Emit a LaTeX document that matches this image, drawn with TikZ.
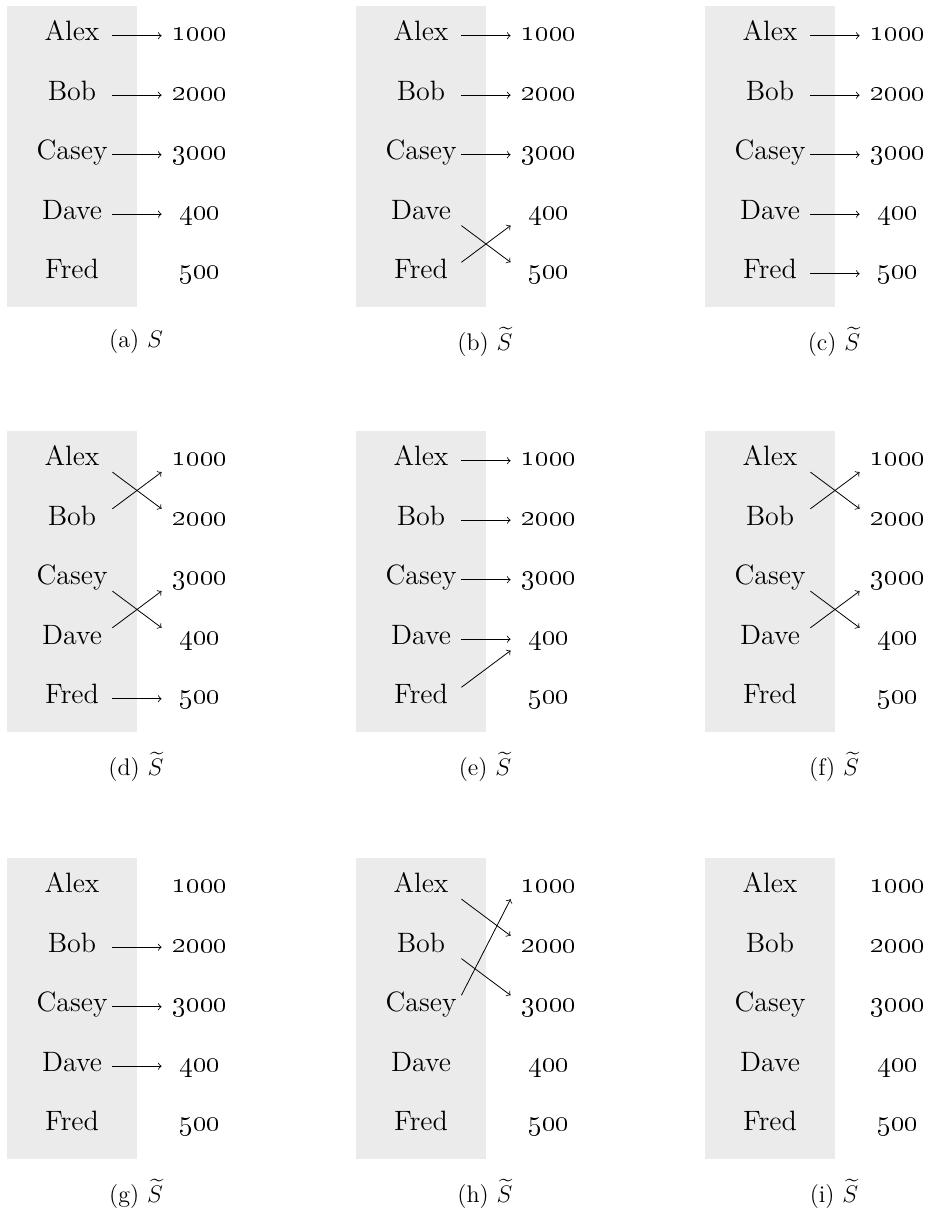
\documentclass[tikz,border=0pt]{standalone}
\usepackage{amsmath,amssymb}
\usepackage{xcolor}
\usepackage{tikz}
\usetikzlibrary{arrows,positioning}

\definecolor{panelgray}{HTML}{EBEBEB}

\begin{document}
\begin{tikzpicture}[
    x=0.5pt, y=-0.5pt,
    person/.style={rectangle, minimum width=40pt, inner sep=0pt, text height=8pt, text depth=3pt, font=\fontsize{14}{16}\selectfont, text centered},
    amount/.style={rectangle, minimum width=38pt, inner sep=0pt, text height=8pt, text depth=3pt, font=\fontsize{14}{16}\selectfont, text centered},
    sublabel/.style={font=\fontsize{12}{14}\selectfont},
    arrow/.style={->,>=to,thin}
]
\useasboundingbox (0,0) rectangle (931,1221);

% the nine panels
\foreach \p/\px/\py/\lbl in {a/0/0/{S}, b/349/0/{\widetilde{S}}, c/698/0/{\widetilde{S}},
                             d/0/425/{\widetilde{S}}, e/349/425/{\widetilde{S}}, f/698/425/{\widetilde{S}},
                             g/0/852/{\widetilde{S}}, h/349/852/{\widetilde{S}}, i/698/852/{\widetilde{S}}} {
  \fill[panelgray] ({\px+7},{\py+6}) rectangle ({\px+137},{\py+307});
  \node[person] (\p-alex)  at ({\px+72},{\py+35.7})  {Alex};
  \node[person] (\p-bob)   at ({\px+72},{\py+95.2})  {Bob};
  \node[person] (\p-casey) at ({\px+72},{\py+154.7}) {Casey};
  \node[person] (\p-dave)  at ({\px+72},{\py+214.2}) {Dave};
  \node[person] (\p-fred)  at ({\px+72},{\py+273.7}) {Fred};
  \node[amount] (\p-1000) at ({\px+200},{\py+35.7})  {\oldstylenums{1000}};
  \node[amount] (\p-2000) at ({\px+200},{\py+95.2})  {\oldstylenums{2000}};
  \node[amount] (\p-3000) at ({\px+200},{\py+154.7}) {\oldstylenums{3000}};
  \node[amount] (\p-400)  at ({\px+200},{\py+214.2}) {\oldstylenums{400}};
  \node[amount] (\p-500)  at ({\px+200},{\py+273.7}) {\oldstylenums{500}};
  \node[sublabel] (\p-cap) at ({\px+136},{\py+342}) {(\p)~$\lbl$};
}

% (a)
\draw[arrow] (a-alex) -- (a-1000);
\draw[arrow] (a-bob) -- (a-2000);
\draw[arrow] (a-casey) -- (a-3000);
\draw[arrow] (a-dave) -- (a-400);

% (b)
\draw[arrow] (b-alex) -- (b-1000);
\draw[arrow] (b-bob) -- (b-2000);
\draw[arrow] (b-casey) -- (b-3000);
\draw[arrow] (b-dave.south east) -- (b-500.north west);
\draw[arrow] (b-fred.north east) -- (b-400.south west);

% (c)
\draw[arrow] (c-alex) -- (c-1000);
\draw[arrow] (c-bob) -- (c-2000);
\draw[arrow] (c-casey) -- (c-3000);
\draw[arrow] (c-dave) -- (c-400);
\draw[arrow] (c-fred) -- (c-500);

% (d)
\draw[arrow] (d-alex.south east) -- (d-2000.north west);
\draw[arrow] (d-bob.north east) -- (d-1000.south west);
\draw[arrow] (d-casey.south east) -- (d-400.north west);
\draw[arrow] (d-dave.north east) -- (d-3000.south west);
\draw[arrow] (d-fred) -- (d-500);

% (e)
\draw[arrow] (e-alex) -- (e-1000);
\draw[arrow] (e-bob) -- (e-2000);
\draw[arrow] (e-casey) -- (e-3000);
\draw[arrow] (e-dave) -- (e-400);
\draw[arrow] (e-fred.north east) -- (e-400.south west);

% (f)
\draw[arrow] (f-alex.south east) -- (f-2000.north west);
\draw[arrow] (f-bob.north east) -- (f-1000.south west);
\draw[arrow] (f-casey.south east) -- (f-400.north west);
\draw[arrow] (f-dave.north east) -- (f-3000.south west);

% (g)
\draw[arrow] (g-bob) -- (g-2000);
\draw[arrow] (g-casey) -- (g-3000);
\draw[arrow] (g-dave) -- (g-400);

% (h)
\draw[arrow] (h-alex.south east) -- (h-2000.north west);
\draw[arrow] (h-bob.south east) -- (h-3000.north west);
\draw[arrow] (h-casey.north east) -- (h-1000.south west);

\end{tikzpicture}
\end{document}
